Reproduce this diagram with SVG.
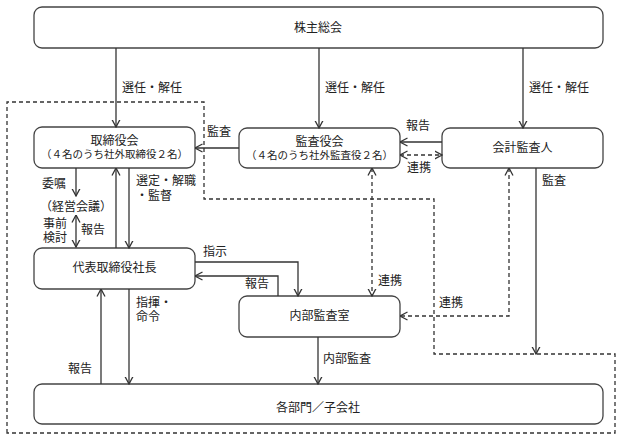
<svg xmlns="http://www.w3.org/2000/svg" width="622" height="441" viewBox="0 0 622 441">
<style>
text{font-family:"Noto Sans CJK JP","Noto Sans CJK SC",sans-serif;font-size:12px;fill:#222}
.s{font-size:10.5px}
.m{text-anchor:middle}
.b{fill:#fff;stroke:#444;stroke-width:1.3}
.c{fill:none;stroke:#333;stroke-width:1.3}
.d{stroke-dasharray:4 3}
</style>
<defs>
<marker id="a" viewBox="0 0 8 10" refX="7.5" refY="5" markerWidth="8" markerHeight="10" orient="auto-start-reverse" markerUnits="userSpaceOnUse">
<path d="M0,1 L7.5,5 L0,9" fill="none" stroke="#333" stroke-width="1.3"/>
</marker>
</defs>
<rect width="622" height="441" fill="#fff"/>
<path class="c d" d="M7,433 V102 H204 V199 H434 V354 H615 V433 Z"/>
<g id="n1"><rect class="b" x="34" y="7" width="569" height="41" rx="8"/><text class="m" x="318" y="32">株主総会</text></g>
<g id="n2"><rect class="b" x="34" y="127" width="161" height="41" rx="8"/><text class="m" x="114.5" y="145">取締役会<tspan class="s" x="114.5" dy="13">（４名のうち社外取締役２名）</tspan></text></g>
<g id="n3"><rect class="b" x="239" y="128" width="161" height="40" rx="8"/><text class="m" x="319.5" y="146">監査役会<tspan class="s" x="319.5" dy="13">（４名のうち社外監査役２名）</tspan></text></g>
<g id="n4"><rect class="b" x="442" y="128" width="161" height="40" rx="8"/><text class="m" x="522.5" y="152">会計監査人</text></g>
<g id="n5"><rect class="b" x="34" y="248" width="161" height="41" rx="8"/><text class="m" x="114.5" y="272">代表取締役社長</text></g>
<g id="n6"><rect class="b" x="239" y="296" width="161" height="41" rx="8"/><text class="m" x="319.5" y="320">内部監査室</text></g>
<g id="n7"><rect class="b" x="34" y="384" width="569" height="40" rx="8"/><text class="m" x="318" y="412">各部門／子会社</text></g>
<g id="n8"><text x="40" y="211">（経営会議）</text></g>
<g id="connectors">
<path class="c" d="M116,48 V127" marker-end="url(#a)"/>
<path class="c" d="M319,48 V128" marker-end="url(#a)"/>
<path class="c" d="M523,48 V128" marker-end="url(#a)"/>
<path class="c" d="M239,148 H195" marker-end="url(#a)"/>
<path class="c" d="M442,142 H400" marker-end="url(#a)"/>
<path class="c d" d="M400,155 H442" marker-start="url(#a)" marker-end="url(#a)"/>
<path class="c" d="M76,168 V196" marker-end="url(#a)"/>
<path class="c" d="M76,215 V247" marker-start="url(#a)" marker-end="url(#a)"/>
<path class="c" d="M116,248 V168" marker-end="url(#a)"/>
<path class="c" d="M129,168 V248" marker-end="url(#a)"/>
<path class="c" d="M195,262 H298 V296" marker-end="url(#a)"/>
<path class="c" d="M278,296 V276 H195" marker-end="url(#a)"/>
<path class="c d" d="M372,168 V296" marker-start="url(#a)" marker-end="url(#a)"/>
<path class="c d" d="M509,168 V316 H400" marker-start="url(#a)" marker-end="url(#a)"/>
<path class="c" d="M536,168 V354" marker-end="url(#a)"/>
<path class="c" d="M101,384 V289" marker-end="url(#a)"/>
<path class="c" d="M129,289 V384" marker-end="url(#a)"/>
<path class="c" d="M318,337 V384" marker-end="url(#a)"/>
<text x="122" y="92">選任・解任</text>
<text x="325" y="92">選任・解任</text>
<text x="529" y="92">選任・解任</text>
<text x="207" y="136">監査</text>
<text x="406" y="130">報告</text>
<text x="407" y="172">連携</text>
<text x="42" y="188">委嘱</text>
<text x="136" y="185">選定・解職<tspan x="136" dy="15">・監督</tspan></text>
<text x="43" y="228">事前<tspan x="43" dy="14">検討</tspan></text>
<text x="81" y="234">報告</text>
<text x="203" y="256">指示</text>
<text x="245" y="288">報告</text>
<text x="136" y="307">指揮・<tspan x="136" dy="14">命令</tspan></text>
<text x="378" y="285">連携</text>
<text x="439" y="307">連携</text>
<text x="542" y="185">監査</text>
<text x="68" y="373">報告</text>
<text x="323" y="363">内部監査</text>
</g>
</svg>
